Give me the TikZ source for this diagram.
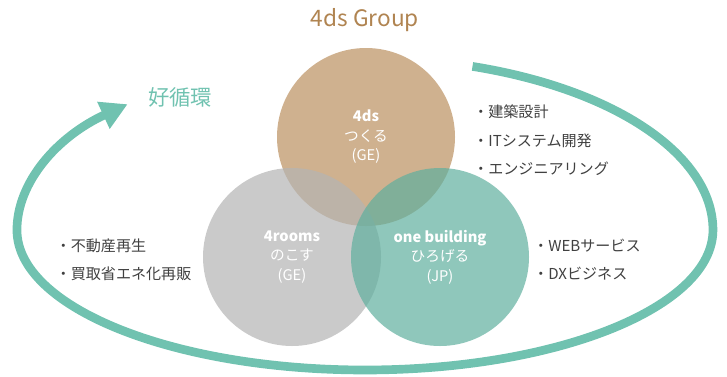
\documentclass[tikz,border=0pt]{standalone}
\usepackage{fontspec}
\setmainfont{Noto Sans CJK JP}
\usetikzlibrary{arrows.meta}
\definecolor{brandtan}{HTML}{CFB18F}
\definecolor{brandgray}{HTML}{B4B4B4}
\definecolor{brandteal}{HTML}{5FAF9E}
\definecolor{loopteal}{HTML}{70C2B0}
\definecolor{titlebrown}{HTML}{B08451}
\definecolor{inkgray}{HTML}{404040}

\begin{document}
\begin{tikzpicture}[
    x=0.75pt, y=0.75pt,
    bubble/.style={circle, inner sep=0pt, minimum size=133.5pt, align=center, text=white, text opacity=1, font=\fontsize{11}{14.6}\selectfont},
    item/.style={anchor=west, inner sep=0pt, text=inkgray, font=\fontsize{11.3}{13}\selectfont},
    cycleline/.style={draw=loopteal, line width=6.5pt, -{Triangle[length=20pt, width=21pt]}},
]
\useasboundingbox (0,0) rectangle (727,-376);
\node[text=titlebrown, font=\fontsize{17}{20}\selectfont] (title) at (365,-20) {4ds Group};
% loop arrow round the three circles
\coordinate (loopstart) at (472.5,-66.4);
\draw[cycleline] (loopstart) arc[start angle=72, end angle=0, x radius=348, y radius=172]
    arc[start angle=0, end angle=-180, x radius=348, y radius=140]
    arc[start angle=180, end angle=133, x radius=348, y radius=172];
\node[anchor=west, inner sep=0pt, text=loopteal, font=\fontsize{16}{18}\selectfont] (cycletext) at (148,-97) {好循環};
% circles
\node[bubble, fill=brandtan] (ds) at (366,-137) {\textbf{4ds}\\つくる\\(GE)};
\node[bubble, fill=brandgray, fill opacity=0.7] (rooms) at (292,-257) {\textbf{4rooms}\\のこす\\(GE)};
\node[bubble, fill=brandteal, fill opacity=0.7] (building) at (440,-257) {\textbf{one building}\\ひろげる\\(JP)};
% business lines
\node[item] (ds1) at (473,-112) {・建築設計};
\node[item] (ds2) at (473,-140.5) {・ITシステム開発};
\node[item] (ds3) at (473,-169) {・エンジニアリング};
\node[item] (rooms1) at (55.5,-245.5) {・不動産再生};
\node[item] (rooms2) at (55.5,-273.5) {・買取省エネ化再販};
\node[item] (building1) at (533,-245.5) {・WEBサービス};
\node[item] (building2) at (533,-273.5) {・DXビジネス};
\end{tikzpicture}
\end{document}
